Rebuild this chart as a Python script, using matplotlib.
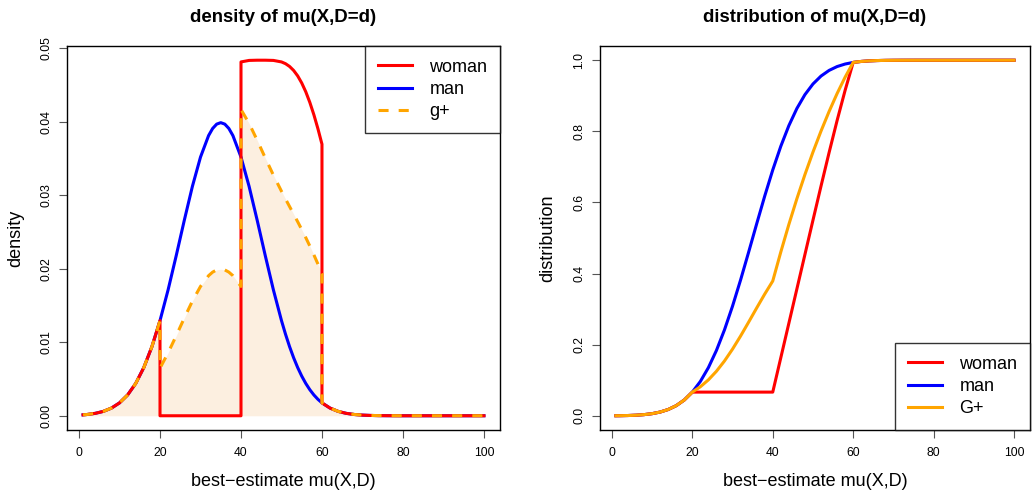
import matplotlib
matplotlib.use("Agg")
import matplotlib.pyplot as plt

plt.rcParams['font.family'] = ['Liberation Sans', 'DejaVu Sans']

# ---------------- data: left panel (densities) ----------------
x_dens = [1, 2, 4, 6, 8, 10, 12, 14, 16, 18, 20, 20,
          22, 24, 26, 28, 30, 32, 33, 34, 35, 36, 37, 38, 40, 40,
          42, 44, 46, 48, 50, 51, 52, 53, 54, 55, 56, 57, 58, 59, 60, 60,
          62, 64, 66, 68, 70, 72, 74, 76, 78, 80,
          82, 84, 86, 88, 90, 92, 94, 96, 98, 100]

dens_man = [0.000123, 0.000172, 0.000327, 0.000595, 0.001042, 0.001753, 0.002833, 0.004399, 0.006562, 0.009405,
            0.012952, 0.012952,
            0.017140, 0.021785, 0.026609, 0.031225, 0.035207, 0.038138, 0.039104, 0.039695, 0.039894, 0.039695,
            0.039104, 0.038138,
            0.035207, 0.035207,
            0.031225, 0.026609, 0.021785, 0.017140, 0.012952, 0.011092, 0.009405, 0.007895, 0.006562, 0.005399,
            0.004399, 0.003547, 0.002833, 0.002239,
            0.001753, 0.001753,
            0.001042, 0.000595, 0.000327, 0.000172, 0.000087, 0.000043, 0.000020, 0.000009, 0.000004, 0.0,
            0.0, 0.0, 0.0, 0.0, 0.0, 0.0, 0.0, 0.0, 0.0, 0.0]

dens_woman = [0.000123, 0.000172, 0.000327, 0.000595, 0.001042, 0.001753, 0.002833, 0.004399, 0.006562, 0.009405,
              0.012952, 0.0,
              0.0, 0.0, 0.0, 0.0, 0.0, 0.0, 0.0, 0.0, 0.0, 0.0,
              0.0, 0.0,
              0.0, 0.048159,
              0.048365, 0.048394, 0.048394, 0.048365, 0.048159, 0.047919, 0.047543, 0.046999, 0.046257, 0.045293,
              0.044094, 0.042651, 0.040971, 0.039066,
              0.036960, 0.001753,
              0.001042, 0.000595, 0.000327, 0.000172, 0.000087, 0.000043, 0.000020, 0.000009, 0.000004, 0.0,
              0.0, 0.0, 0.0, 0.0, 0.0, 0.0, 0.0, 0.0, 0.0, 0.0]

dens_gplus = [0.000123, 0.000172, 0.000327, 0.000595, 0.001042, 0.001753, 0.002833, 0.004399, 0.006562, 0.009405,
              0.012952, 0.006476,
              0.008570, 0.010893, 0.013305, 0.015613, 0.017604, 0.019069, 0.019552, 0.019848, 0.019947, 0.019848,
              0.019552, 0.019069,
              0.017604, 0.041683,
              0.039795, 0.037502, 0.035090, 0.032753, 0.030556, 0.029506, 0.028474, 0.027447, 0.026410, 0.025346,
              0.024247, 0.023099, 0.021902, 0.020653,
              0.019357, 0.001753,
              0.001042, 0.000595, 0.000327, 0.000172, 0.000087, 0.000043, 0.000020, 0.000009, 0.000004, 0.0,
              0.0, 0.0, 0.0, 0.0, 0.0, 0.0, 0.0, 0.0, 0.0, 0.0]

# ---------------- data: right panel (distributions) ----------------
x_dist = [1, 2, 4, 6, 8, 10, 12, 14, 16, 18, 20,
          22, 24, 26, 28, 30, 32, 34, 36, 38, 40,
          42, 44, 46, 48, 50, 52, 54, 56, 58, 60,
          62, 64, 66, 68, 70, 72, 74, 76, 78, 80,
          82, 84, 86, 88, 90, 92, 94, 96, 98, 100]

dist_man = [0.000337, 0.000483, 0.000968, 0.001866, 0.003467, 0.006210, 0.010724, 0.017864, 0.028717, 0.044565, 0.066807,
            0.096800, 0.135666, 0.184060, 0.241964, 0.308538, 0.382089, 0.460172, 0.539828, 0.617911, 0.691462,
            0.758036, 0.815940, 0.864334, 0.903200, 0.933193, 0.955435, 0.971283, 0.982136, 0.989276, 0.993790,
            0.996533, 0.998134, 0.999032, 0.999517, 0.999767, 0.999892, 0.999952, 0.999979, 0.999992, 0.999997,
            1.0, 1.0, 1.0, 1.0, 1.0, 1.0, 1.0, 1.0, 1.0, 1.0]

dist_woman = [0.000337, 0.000483, 0.000968, 0.001866, 0.003467, 0.006210, 0.010724, 0.017864, 0.028717, 0.044565, 0.066807,
              0.066807, 0.066807, 0.066807, 0.066807, 0.066807, 0.066807, 0.066807, 0.066807, 0.066807, 0.066807,
              0.163374, 0.260144, 0.356932, 0.453702, 0.550269, 0.646062, 0.739993, 0.830502, 0.915725, 0.993790,
              0.996533, 0.998134, 0.999032, 0.999517, 0.999767, 0.999892, 0.999952, 0.999979, 0.999992, 0.999997,
              1.0, 1.0, 1.0, 1.0, 1.0, 1.0, 1.0, 1.0, 1.0, 1.0]

dist_gplus = [0.000337, 0.000483, 0.000968, 0.001866, 0.003467, 0.006210, 0.010724, 0.017864, 0.028717, 0.044565, 0.066807,
              0.081804, 0.101237, 0.125434, 0.154386, 0.187673, 0.224448, 0.263490, 0.303318, 0.342359, 0.379135,
              0.460705, 0.538042, 0.610633, 0.678451, 0.741731, 0.800749, 0.855638, 0.906319, 0.952501, 0.993790,
              0.996533, 0.998134, 0.999032, 0.999517, 0.999767, 0.999892, 0.999952, 0.999979, 0.999992, 0.999997,
              1.0, 1.0, 1.0, 1.0, 1.0, 1.0, 1.0, 1.0, 1.0, 1.0]

x_ticks = [0, 20, 40, 60, 80, 100]
dens_ticks = [0.00, 0.01, 0.02, 0.03, 0.04, 0.05]
dist_ticks = [0.0, 0.2, 0.4, 0.6, 0.8, 1.0]
legend_left = ["woman", "man", "g+"]
legend_right = ["woman", "man", "G+"]

# ---------------- styling ----------------
LW = 2.2
RED, BLUE, ORANGE = '#FF0000', '#0000FF', '#FFA500'
FILL = '#FCEFE0'
TICK_FS = 8.7
LAB_FS = 13
TITLE_FS = 13.4

fig = plt.figure(figsize=(10.33, 4.96), dpi=100)
ax1 = fig.add_axes([0.0649, 0.1331, 0.4191, 0.7742])
ax2 = fig.add_axes([0.5808, 0.1331, 0.4163, 0.7742])


def style(ax, xt, yt, yfmt):
    ax.set_xticks(xt)
    ax.set_yticks(yt)
    ax.set_xticklabels([str(v) for v in xt], fontsize=TICK_FS)
    ax.set_yticklabels([yfmt.format(v) for v in yt], fontsize=TICK_FS,
                       rotation=90, va='center')
    ax.tick_params(direction='out', length=5.5, width=0.8, color='#555555')
    ax.tick_params(axis='x', pad=7)
    ax.tick_params(axis='y', pad=5)
    for s in ax.spines.values():
        s.set_linewidth(1.0)
        s.set_color('black')
    ax.set_xlim(-2.96, 103.96)


def legend(ax, loc, labels_order):
    h, l = ax.get_legend_handles_labels()
    lg = ax.legend([h[i] for i in labels_order], [l[i] for i in labels_order], loc=loc,
                   fontsize=LAB_FS, frameon=True, fancybox=False, borderaxespad=0,
                   handlelength=1.9, handletextpad=0.95, borderpad=0.7,
                   labelspacing=0.3)
    lg.get_frame().set_edgecolor('black')
    lg.get_frame().set_linewidth(1.0)
    return lg


order = [1, 0, 2]

# left panel
ax1.fill_between(x_dens, 0, dens_gplus, color=FILL, lw=0, zorder=1)
ax1.plot(x_dens, dens_man, color=BLUE, lw=LW, zorder=2, label=legend_left[1])
ax1.plot(x_dens, dens_woman, color=RED, lw=LW, zorder=3, label=legend_left[0])
ax1.plot(x_dens, dens_gplus, color=ORANGE, lw=LW, ls=(0, (3.3, 3.3)), zorder=4,
         label=legend_left[2])
style(ax1, x_ticks, dens_ticks, "{:.2f}")
ax1.set_ylim(-0.001936, 0.05033)
ax1.set_title("density of mu(X,D=d)", fontsize=TITLE_FS, fontweight='bold', pad=17)
ax1.set_xlabel("best\u2212estimate mu(X,D)", fontsize=LAB_FS, labelpad=10)
ax1.set_ylabel("density", fontsize=LAB_FS, labelpad=12)
legend(ax1, 'upper right', order)

# right panel
ax2.plot(x_dist, dist_man, color=BLUE, lw=LW, zorder=2, label=legend_right[1])
ax2.plot(x_dist, dist_woman, color=RED, lw=LW, zorder=3, label=legend_right[0])
ax2.plot(x_dist, dist_gplus, color=ORANGE, lw=LW, zorder=4, label=legend_right[2])
style(ax2, x_ticks, dist_ticks, "{:.1f}")
ax2.set_ylim(-0.0397, 1.04)
ax2.set_title("distribution of mu(X,D=d)", fontsize=TITLE_FS, fontweight='bold', pad=17)
ax2.set_xlabel("best\u2212estimate mu(X,D)", fontsize=LAB_FS, labelpad=10)
ax2.set_ylabel("distribution", fontsize=LAB_FS, labelpad=12)
legend(ax2, 'lower right', order)

fig.savefig("out.png", dpi=100)
